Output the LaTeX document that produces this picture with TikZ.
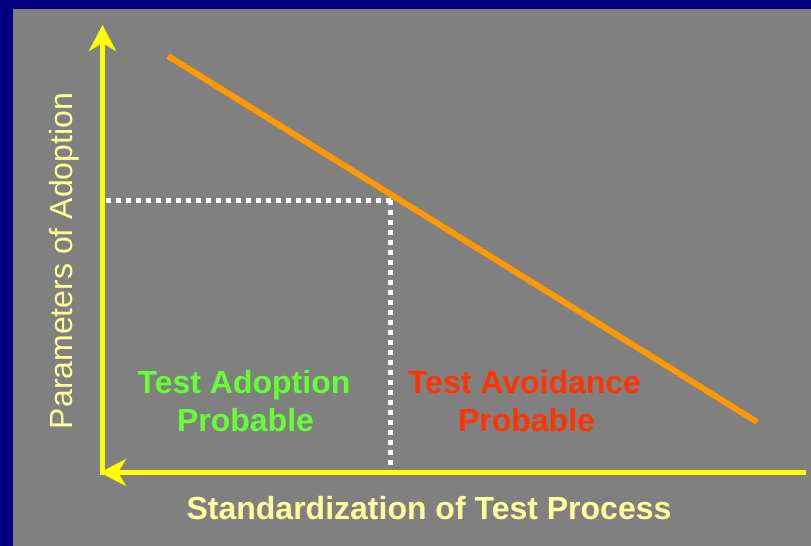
\documentclass[tikz,border=0pt]{standalone}
\usepackage{fontspec}
\setmainfont{Liberation Sans}
\usetikzlibrary{arrows.meta}
\definecolor{bggray}{HTML}{808080}
\definecolor{navy}{HTML}{000080}
\definecolor{axisyellow}{HTML}{FFFF00}
\definecolor{paleyellow}{HTML}{FFFF99}
\definecolor{lineorange}{HTML}{FF9900}
\definecolor{adoptgreen}{HTML}{66FF33}
\definecolor{avoidred}{HTML}{FF3300}
\tikzset{
  axisline/.style={draw=axisyellow, line width=5pt,
    -{Stealth[length=26pt, width=27pt, inset=8pt]}},
  trendline/.style={draw=lineorange, line width=6pt},
  dotline/.style={draw=white, line width=4.5pt, dash pattern=on 4.5pt off 5.5pt},
  boldlabel/.style={font=\fontsize{32}{38}\selectfont\bfseries, inner sep=0pt, anchor=base},
  axislabel/.style={text=paleyellow, inner sep=0pt, anchor=base}
}
\begin{document}
\begin{tikzpicture}[x=1pt, y=1pt]
\useasboundingbox (0,0) rectangle (811,546);
\fill[bggray] (0,0) rectangle (811,546);
\fill[navy] (0,537) rectangle (811,546);
\fill[navy] (0,0) rectangle (13,546);
% coordinates
\coordinate (ybot) at (102.5,71);
\coordinate (ytip) at (102.5,521);
\coordinate (xend) at (806,73.5);
\coordinate (xtip) at (100,73.5);
\coordinate (lstart) at (168,490);
\coordinate (lend) at (757,124);
\coordinate (hstart) at (106,345.5);
\coordinate (corner) at (390.5,345.5);
\coordinate (vend) at (390.5,76);
% dotted guides
\draw[dotline] (hstart) -- (corner);
\draw[dotline] (corner) -- (vend);
% axes
\draw[axisline] (ybot) -- (ytip);
\draw[axisline] (xend) -- (xtip);
% trend line
\draw[trendline] (lstart) -- (lend);
% labels
\node[axislabel, font=\fontsize{32}{38}\selectfont, rotate=90] (ylab) at (72,285) {Parameters of Adoption};
\node[axislabel, font=\fontsize{32}{38}\selectfont\bfseries] (xlab) at (429,26) {Standardization of Test Process};
\node[boldlabel, text=adoptgreen] (adopt1) at (244,152) {Test Adoption};
\node[boldlabel, text=adoptgreen] (adopt2) at (245.5,114) {Probable};
\node[boldlabel, text=avoidred] (avoid1) at (524.5,152) {Test Avoidance};
\node[boldlabel, text=avoidred] (avoid2) at (526.5,114) {Probable};
\end{tikzpicture}
\end{document}
